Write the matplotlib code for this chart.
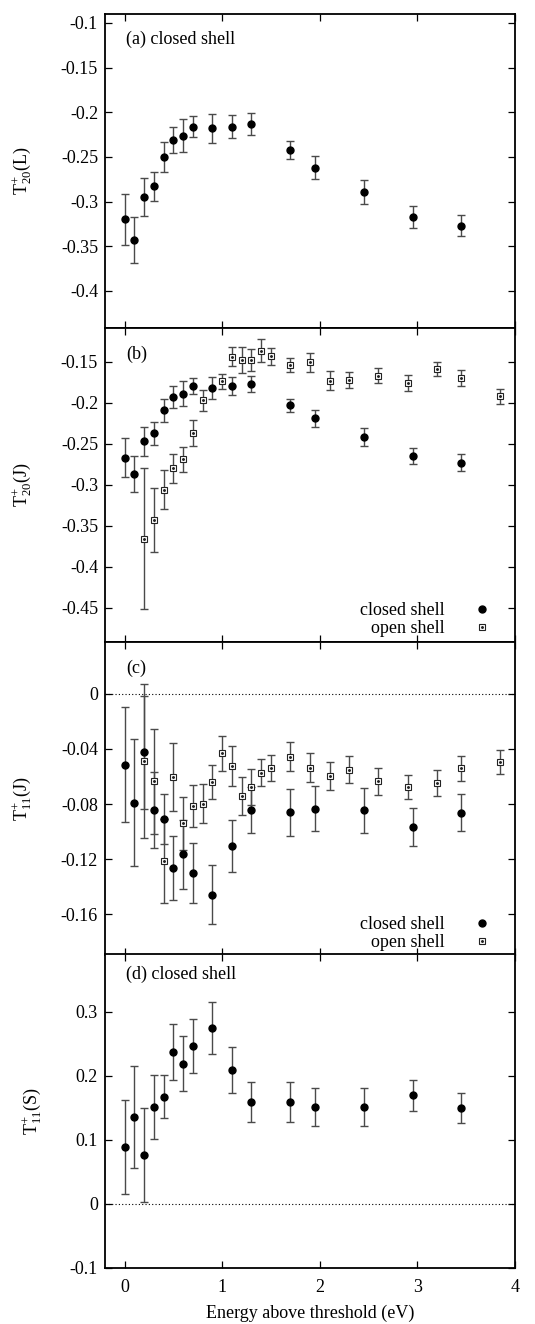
import matplotlib
matplotlib.use("Agg")
import matplotlib.pyplot as plt
from matplotlib.lines import Line2D
from matplotlib.ticker import FuncFormatter
import numpy as np

plt.rcParams['font.family'] = ['Liberation Serif', 'DejaVu Serif']
plt.rcParams['mathtext.fontset'] = 'custom'
plt.rcParams['mathtext.rm'] = 'Liberation Serif'
plt.rcParams['mathtext.it'] = 'Liberation Serif:italic'
plt.rcParams['axes.unicode_minus'] = False
FS = 13

# energies above threshold (eV)
e_closed = [0, 0.1, 0.2, 0.3, 0.4, 0.5, 0.6, 0.7, 0.9, 1.1, 1.3, 1.7, 1.95, 2.45, 2.95, 3.45]
e_open_b = [0.2, 0.3, 0.4, 0.5, 0.6, 0.7, 0.8, 1.0, 1.1, 1.2, 1.3, 1.4, 1.5,
            1.7, 1.9, 2.1, 2.3, 2.6, 2.9, 3.2, 3.45, 3.85]
e_open_c = [0.2, 0.3, 0.4, 0.5, 0.6, 0.7, 0.8, 0.9, 1.0, 1.1, 1.2, 1.3, 1.4, 1.5,
            1.7, 1.9, 2.1, 2.3, 2.6, 2.9, 3.2, 3.45, 3.85]

# (a) T20+(L), closed shell
t20L = [-0.320, -0.343, -0.295, -0.283, -0.250, -0.231, -0.226, -0.216,
        -0.218, -0.216, -0.213, -0.242, -0.262, -0.289, -0.317, -0.327]
t20L_err = [0.029, 0.026, 0.021, 0.016, 0.017, 0.015, 0.018, 0.012,
            0.016, 0.013, 0.0125, 0.010, 0.0127, 0.0135, 0.0123, 0.012]

# (b) T20+(J)
t20J_closed = [-0.267, -0.287, -0.247, -0.237, -0.209, -0.193, -0.189, -0.180,
               -0.182, -0.180, -0.177, -0.203, -0.219, -0.242, -0.265, -0.273]
t20J_closed_err = [0.024, 0.022, 0.018, 0.014, 0.014, 0.013, 0.015, 0.010,
                   0.013, 0.011, 0.010, 0.008, 0.010, 0.011, 0.010, 0.010]
t20J_open = [-0.3655, -0.343, -0.306, -0.280, -0.269, -0.237, -0.197, -0.174,
             -0.144, -0.148, -0.148, -0.137, -0.1435, -0.154, -0.151, -0.173,
             -0.172, -0.167, -0.176, -0.159, -0.170, -0.192]
t20J_open_err = [0.086, 0.039, 0.0235, 0.0175, 0.015, 0.016, 0.013, 0.009,
                 0.0115, 0.0155, 0.0135, 0.014, 0.010, 0.0087, 0.0115, 0.0113,
                 0.010, 0.0095, 0.010, 0.009, 0.0097, 0.0093]

# (c) T11+(J)
t11J_closed = [-0.0515, -0.079, -0.0425, -0.0845, -0.0908, -0.1265, -0.1166, -0.1302,
               -0.146, -0.1107, -0.0843, -0.086, -0.0835, -0.0847, -0.0964, -0.0862]
t11J_closed_err = [0.0417, 0.0462, 0.041, 0.0277, 0.0182, 0.0235, 0.025, 0.0216,
                   0.0216, 0.019, 0.0167, 0.017, 0.0163, 0.0165, 0.0138, 0.0133]
t11J_open = [-0.049, -0.0636, -0.1215, -0.0604, -0.094, -0.0816, -0.0799, -0.064,
             -0.0432, -0.0522, -0.0743, -0.0677, -0.0571, -0.0537, -0.0456, -0.0537,
             -0.0595, -0.0551, -0.0636, -0.0677, -0.0648, -0.0539, -0.0498]
t11J_open_err = [0.056, 0.038, 0.0303, 0.0245, 0.0192, 0.0153, 0.0141, 0.0125,
                 0.013, 0.0145, 0.014, 0.013, 0.0097, 0.0093, 0.0105, 0.0105,
                 0.010, 0.0097, 0.0098, 0.0087, 0.0092, 0.0091, 0.0087]

# (d) T11+(S), closed shell
t11S = [0.0896, 0.136, 0.0766, 0.152, 0.1677, 0.237, 0.2188, 0.2469,
        0.275, 0.2089, 0.1594, 0.1589, 0.152, 0.1516, 0.1698, 0.1505]
t11S_err = [0.0735, 0.080, 0.0735, 0.050, 0.033, 0.044, 0.043, 0.0417,
            0.041, 0.036, 0.031, 0.0315, 0.0295, 0.0295, 0.024, 0.0235]

W, H = 535, 1324
fig = plt.figure(figsize=(W / 100, H / 100), dpi=100)

left, right = 105, 515
tops = [14, 328, 641.7, 954.3]
ph = 313.6

ebar = dict(fmt='none', ecolor='#4a4a4a', elinewidth=1.0, capsize=2.6, capthick=1.0)


def closed(ax, x, y, err):
    ax.errorbar(x, y, yerr=err, zorder=2, **ebar)
    ax.plot(x, y, 'o', color='black', ms=5.0, zorder=4)


def opened(ax, x, y, err):
    ax.errorbar(x, y, yerr=err, zorder=2, **ebar)
    ax.plot(x, y, 's', mfc='white', mec='#222222', mew=0.8, ms=4.0, zorder=3)
    ax.plot(x, y, 'o', color='#222222', ms=1.1, zorder=3)


fmt = FuncFormatter(lambda v, p: '%g' % round(v, 4))

axes = []
for i, top in enumerate(tops):
    ax = fig.add_axes([left / W, (H - top - ph) / H, (right - left) / W, ph / H])
    ax.set_xlim(-0.2, 4)
    ax.set_xticks([0, 1, 2, 3, 4])
    ax.tick_params(direction='in', length=5, width=0.9, top=True, right=True,
                   labelsize=FS, pad=5)
    ax.tick_params(axis='x', pad=8)
    ax.yaxis.set_major_formatter(fmt)
    for s in ax.spines.values():
        s.set_linewidth(1.3)
    if i < 3:
        ax.tick_params(labelbottom=False)
    axes.append(ax)

ax_a, ax_b, ax_c, ax_d = axes

closed(ax_a, e_closed, t20L, t20L_err)
ax_a.set_ylim(-0.441, -0.09)
ax_a.set_yticks(np.arange(-0.4, -0.09, 0.05))
ax_a.text(0.051, 0.918, '(a) closed shell', transform=ax_a.transAxes, fontsize=FS, va='center')
ax_a.set_ylabel(r'$\mathrm{T}_{20}^{+}$(L)', fontsize=FS)

closed(ax_b, e_closed, t20J_closed, t20J_closed_err)
opened(ax_b, e_open_b, t20J_open, t20J_open_err)
ax_b.set_ylim(-0.491, -0.109)
ax_b.set_yticks(np.arange(-0.45, -0.14, 0.05))
ax_b.text(0.051, 0.915, '(b)', transform=ax_b.transAxes, fontsize=FS, va='center')
ax_b.set_ylabel(r'$\mathrm{T}_{20}^{+}$(J)', fontsize=FS)

closed(ax_c, e_closed, t11J_closed, t11J_closed_err)
opened(ax_c, e_open_c, t11J_open, t11J_open_err)
ax_c.axhline(0, color='black', lw=0.8, ls=(0, (1, 2)), zorder=1)
ax_c.set_ylim(-0.19, 0.038)
ax_c.set_yticks([-0.16, -0.12, -0.08, -0.04, 0])
ax_c.text(0.051, 0.915, '(c)', transform=ax_c.transAxes, fontsize=FS, va='center')
ax_c.set_ylabel(r'$\mathrm{T}_{11}^{+}$(J)', fontsize=FS)

closed(ax_d, e_closed, t11S, t11S_err)
ax_d.axhline(0, color='black', lw=0.8, ls=(0, (1, 2)), zorder=1)
ax_d.set_ylim(-0.1, 0.39)
ax_d.set_yticks([-0.1, 0, 0.1, 0.2, 0.3])
ax_d.text(0.051, 0.935, '(d) closed shell', transform=ax_d.transAxes, fontsize=FS, va='center')
ax_d.set_ylabel(r'$\mathrm{T}_{11}^{+}$(S)', fontsize=FS)
ax_d.set_xlabel('Energy above threshold (eV)', fontsize=FS, labelpad=6)

for ax, xl in zip(axes, [22, 22, 22, 32]):
    ax.yaxis.set_label_coords((xl - left) / (right - left), 0.5)
    ax.yaxis.label.set_va('center')

h_closed = Line2D([], [], ls='none', marker='o', color='black', ms=5.0)
h_open = (Line2D([], [], ls='none', marker='s', mfc='white', mec='#222222', mew=0.8, ms=4.0),
          Line2D([], [], ls='none', marker='o', color='#222222', ms=1.1))
for ax in (ax_b, ax_c):
    ax.legend([h_closed, h_open], ['closed shell', 'open shell'], loc='lower right',
              bbox_to_anchor=(0.963, 0.014), frameon=False, markerfirst=False,
              fontsize=FS, handlelength=2.0, handletextpad=1.04, labelspacing=0.05,
              borderpad=0, borderaxespad=0)

fig.savefig('out.png', dpi=100)
